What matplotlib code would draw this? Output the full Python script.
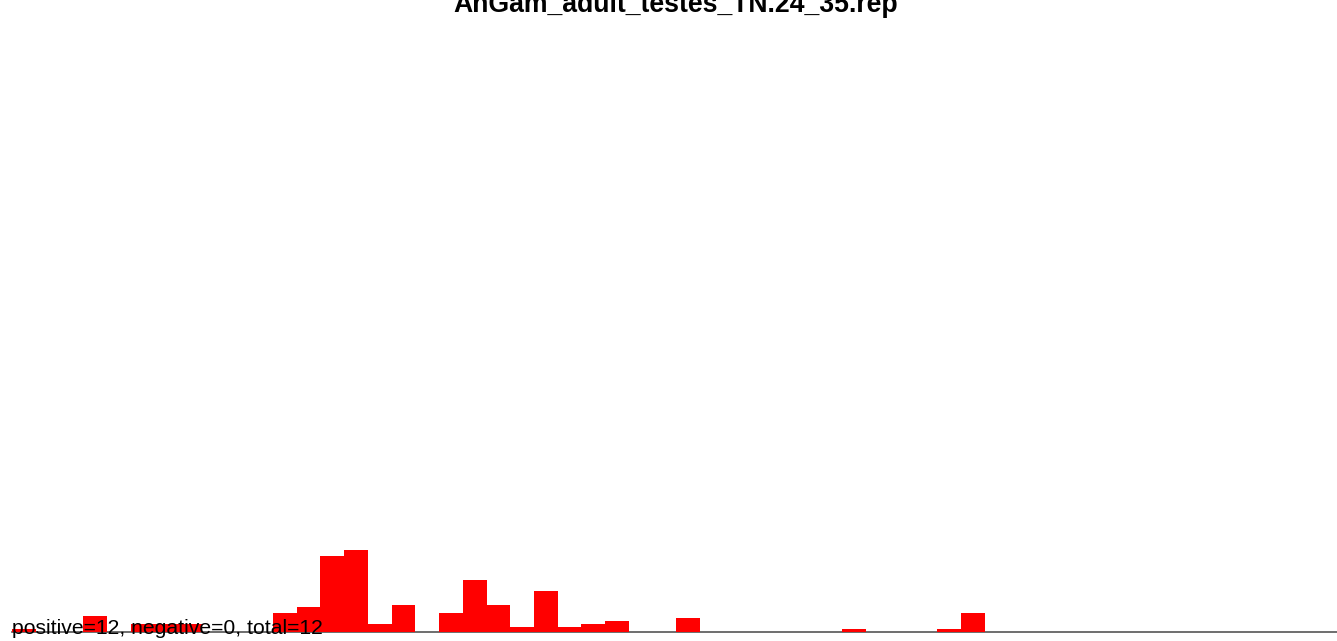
import numpy as np
import matplotlib
matplotlib.use("Agg")
import matplotlib.pyplot as plt

plt.rcParams['font.family'] = ['Liberation Sans', 'DejaVu Sans']

# read counts per bin (bin index -> count), everything else is zero
n_bins = 56
bin_index = [0, 3, 5, 6, 7, 11, 12, 13, 14, 15, 16, 18, 19, 20, 21, 22, 23, 24, 25, 28, 35, 39, 40]
bin_count = [1, 6, 3, 3, 3, 7, 9, 28, 30, 3, 10, 7, 19, 10, 2, 15, 2, 3, 4, 5, 1, 1, 7]

title = "AnGam_adult_testes_TN.24_35.rep"
summary = "positive=12, negative=0, total=12"

counts = np.zeros(n_bins)
counts[bin_index] = bin_count

W, H = 1337, 641
fig = plt.figure(figsize=(W / 100, H / 100), dpi=100)

# axes span from x=12px to the right edge, baseline at y=632px
left, bottom, top = 12, 632, 20
ax = fig.add_axes([left / W, (H - bottom) / H, (W - left) / W, (bottom - top) / H])
ax.axis('off')

px_per_bin = 23.725
ax.set_xlim(0, (W - left) / px_per_bin)
px_per_count = 2.73
ax.set_ylim(0, (bottom - top) / px_per_count)

ax.axhline(0, color='#555555', linewidth=1.2, zorder=1, clip_on=False)
ax.bar(np.arange(n_bins), counts, width=1.0, align='edge', color='#ff0000',
       linewidth=0, zorder=2)

fig.text(676 / W, 1 - 12 / H, title, ha='center', va='baseline',
         fontsize=19.2, fontweight='bold')
fig.text(left / W, 1 - 634.5 / H, summary, ha='left', va='baseline',
         fontsize=15.2, color='black', zorder=5)

fig.savefig("out.png", dpi=100)
